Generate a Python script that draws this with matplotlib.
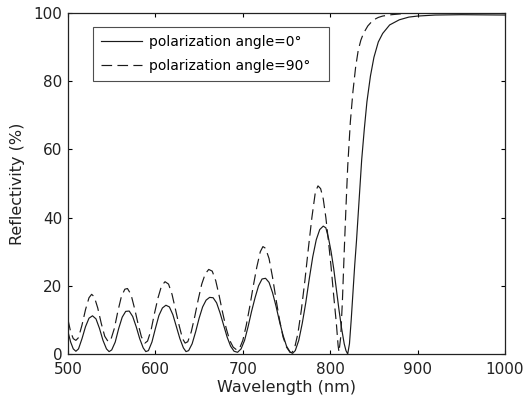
import matplotlib
matplotlib.use('Agg')
import matplotlib.pyplot as plt

plt.rcParams['font.family'] = ['DejaVu Sans']

# polarization angle = 0 deg (solid)
wl_0 = [500, 503, 506, 509, 512, 516, 520, 524, 528, 532, 536, 540, 544, 547, 550, 554,
        558, 562, 566, 570, 574, 578, 582, 586, 589, 592, 596, 600, 604, 608, 612, 616,
        620, 624, 628, 632, 635, 638, 642, 646, 650, 654, 658, 662, 666, 670, 674, 678,
        682, 686, 690, 694, 698, 702, 706, 710, 714, 718, 722, 726, 730, 734, 738, 742,
        746, 750, 754, 757, 760, 764, 768, 772, 776, 780, 784, 788, 792, 795, 798, 801,
        804, 807, 810, 813, 816, 818, 820, 822, 824, 826, 828, 830, 833, 836, 839, 842,
        846, 850, 855, 860, 868, 879, 890, 900, 920, 950, 1000]
refl_0 = [6.5, 3.5, 1.5, 0.8, 1.5, 4.5, 8, 10.5, 11.2, 10.3, 7.5, 4, 1.5, 0.7, 1.2, 3.5,
          7.5, 10.8, 12.5, 12.6, 11, 8, 4.5, 1.8, 0.7, 1, 3.5, 7.5, 11.3, 13.5, 14.3, 13.8,
          11.5, 8, 4.5, 1.8, 0.7, 1, 3, 6.5, 10.5, 13.8, 15.8, 16.6, 16.5, 15, 12, 8.5,
          5, 2.3, 0.8, 0.5, 1.5, 4, 8, 12.5, 16.5, 20, 22, 22.2, 21, 18, 14, 9.5,
          5.5, 2.3, 0.6, 0.2, 1, 4, 9, 15, 22, 28.5, 33.5, 36.5, 37.5, 37, 34, 30,
          25, 19, 13, 7.5, 3, 1, 0, 3, 10, 18, 26, 33, 45, 57, 66, 74,
          81.5, 87, 91.5, 94, 96.5, 98, 98.8, 99.1, 99.4, 99.5, 99.4]

# polarization angle = 90 deg (dashed)
wl_90 = [500, 503, 506, 509, 512, 516, 520, 524, 527, 530, 534, 538, 542, 546, 549, 553,
         557, 561, 565, 568, 572, 576, 580, 584, 588, 591, 595, 599, 603, 607, 611, 615,
         619, 623, 627, 631, 634, 637, 641, 645, 649, 653, 657, 661, 665, 669, 673, 677,
         681, 685, 689, 693, 696, 700, 704, 708, 712, 716, 720, 723, 726, 730, 734, 738,
         742, 746, 750, 754, 756, 759, 763, 767, 771, 775, 779, 783, 786, 789, 792, 795,
         798, 801, 804, 807, 809, 810, 812, 814, 816, 818, 820, 823, 826, 829, 832, 835,
         838, 843, 849, 855, 860, 870, 887, 920, 1000]
refl_90 = [10, 6.5, 4.5, 4, 4.8, 8.5, 13, 16.5, 17.5, 16.8, 13.5, 9, 5.2, 3.6, 4.2, 7.5,
           12.5, 16.8, 19, 19.2, 17.5, 13.5, 9, 5, 3.2, 3.8, 7, 12, 16.5, 20, 21.2, 20.5,
           17.5, 13, 8.5, 4.5, 3.2, 3.6, 6.5, 11, 16, 20.5, 23.5, 24.8, 24.3, 21.5, 17, 12,
           7.5, 4, 2, 1.2, 1.5, 4, 8.5, 14, 20, 25.5, 30, 31.5, 31, 28, 22.5, 16,
           10, 5, 2, 0.5, 0.4, 1.5, 6, 13, 21.5, 31, 40, 47.5, 49.3, 48.5, 45.5, 40,
           33, 25.5, 17, 9, 2.5, 0.6, 5, 16, 30, 43, 55, 68, 77, 84, 89, 92,
           94, 96.2, 97.9, 98.7, 99.1, 99.5, 99.9, 100, 100]

fig = plt.figure(figsize=(5.31, 4.01), dpi=100)
ax = fig.add_axes([0.1281, 0.1172, 0.823, 0.8504])

ax.plot(wl_0, refl_0, '-', c='#1a1a1a', lw=0.85, label='polarization angle=0°')
ax.plot(wl_90, refl_90, '--', c='#1a1a1a', lw=0.85, dashes=(9, 4.5), label='polarization angle=90°')

ax.set_xlim(500, 1000)
ax.set_ylim(0, 100)
ax.set_xticks([500, 600, 700, 800, 900, 1000])
ax.set_yticks([0, 20, 40, 60, 80, 100])
ax.tick_params(direction='in', top=True, right=True, length=3, width=0.8,
               labelsize=11, labelcolor='#222222')
ax.tick_params(axis='x', pad=6)
ax.tick_params(axis='y', pad=4)
for s in ax.spines.values():
    s.set_linewidth(0.9)
    s.set_color('#222222')

ax.set_xlabel('Wavelength (nm)', fontsize=11.5, labelpad=2, color='#222222')
ax.set_ylabel('Reflectivity (%)', fontsize=11.5, color='#222222')
ax.yaxis.set_label_coords(-0.098, 0.5)

leg = ax.legend(loc='upper left', bbox_to_anchor=(0.0572, 0.0, 0.540, 0.959),
                mode='expand', borderaxespad=0, fontsize=10, frameon=True,
                fancybox=False, handlelength=3.0, handletextpad=0.45,
                labelspacing=0.75, borderpad=0.55)
leg.get_frame().set_edgecolor('#222222')
leg.get_frame().set_linewidth(0.8)

plt.savefig('out.png', dpi=100)
